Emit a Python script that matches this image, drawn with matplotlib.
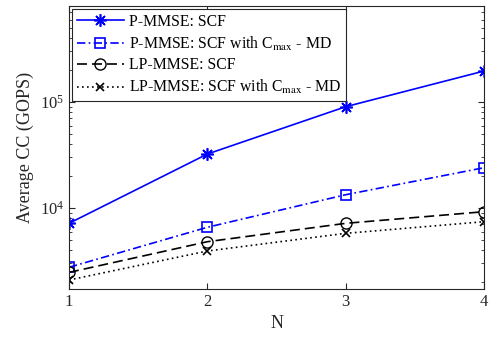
import matplotlib
matplotlib.use("Agg")
import matplotlib.pyplot as plt
from matplotlib.ticker import LogLocator, NullFormatter

plt.rcParams['font.family'] = ['Liberation Serif', 'DejaVu Serif']
plt.rcParams['mathtext.fontset'] = 'stix'

N = [1, 2, 3, 4]
p_scf = [7170, 32300, 90300, 196000]
p_scf_cmax = [2760, 6580, 13350, 24000]
lp_scf = [2470, 4810, 7170, 9230]
lp_scf_cmax = [2094, 3930, 5770, 7430]

labels = ['P-MMSE: SCF',
          r'P-MMSE: SCF with C$_{\mathrm{max}}$ - MD',
          'LP-MMSE: SCF',
          r'LP-MMSE: SCF with C$_{\mathrm{max}}$ - MD']

fig = plt.figure(figsize=(4.9, 3.43), dpi=100)
ax = fig.add_axes([69/490, 1-289/343, (484-69)/490, (289-6)/343])

ax.plot(N, p_scf, color='#0000ff', ls='-', lw=1.2, marker=(8, 2, 0), ms=9, mew=1.2, label=labels[0])
ax.plot(N, p_scf_cmax, color='#0000ff', ls=(0, (5, 2, 1, 2)), lw=1.2, marker='s', ms=6.5, mfc='none', mew=1.2, label=labels[1])
ax.plot(N, lp_scf, color='black', ls=(0, (6, 3)), lw=1.2, marker='o', ms=8, mfc='none', mew=1.0, label=labels[2])
ax.plot(N, lp_scf_cmax, color='black', ls=(0, (1, 2)), lw=1.2, marker='x', ms=6, mew=1.2, label=labels[3])

ax.set_yscale('log')
ax.set_xlim(1, 4)
ax.set_ylim(1722, 8.05e5)
ax.set_xticks(N)
ax.yaxis.set_major_locator(LogLocator(base=10, numticks=10))
ax.yaxis.set_minor_locator(LogLocator(base=10, subs=range(2, 10), numticks=20))
ax.yaxis.set_minor_formatter(NullFormatter())
ax.tick_params(which='both', direction='in', top=True, right=True, labelsize=12, colors='#262626')
ax.tick_params(which='major', length=4)
ax.tick_params(which='minor', length=2.5)
for s in ax.spines.values():
    s.set_color('#262626')
    s.set_linewidth(0.8)

ax.set_xlabel('N', fontsize=13, color='#262626')
ax.set_ylabel('Average CC (GOPS)', fontsize=13, color='#262626')

leg = ax.legend(loc='upper left', fontsize=11.3, frameon=True, fancybox=False,
                edgecolor='#262626', framealpha=1, borderpad=0.3, labelspacing=0.3,
                handlelength=3.0, handletextpad=0.3, borderaxespad=0.2)
leg.get_frame().set_linewidth(0.8)

fig.savefig('out.png', dpi=100)
